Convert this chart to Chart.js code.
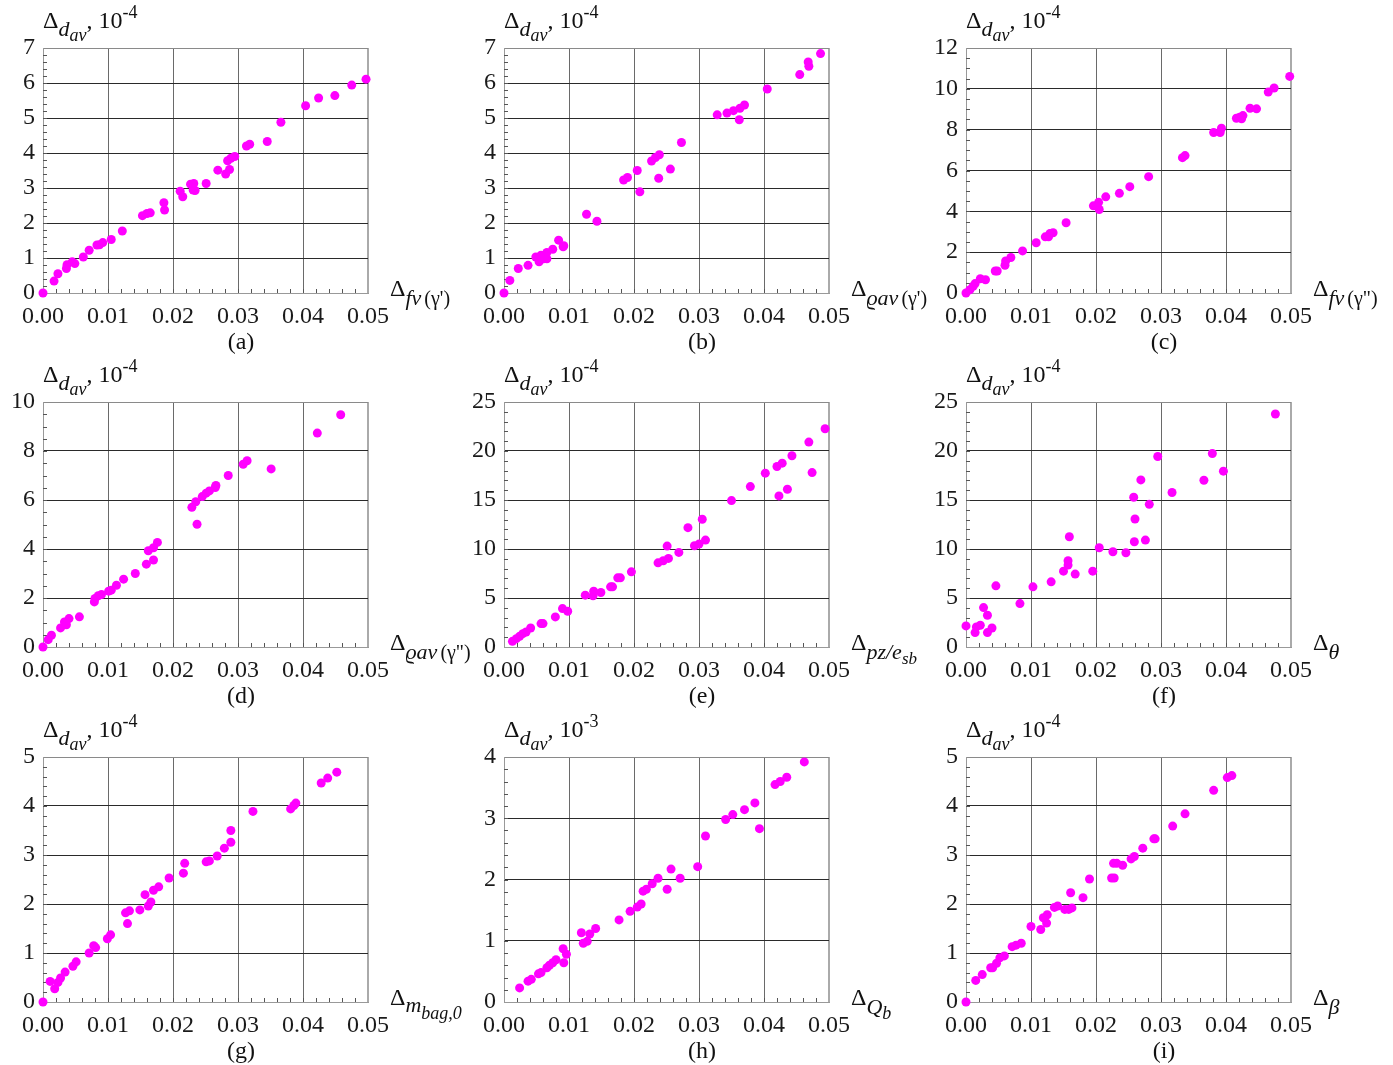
<!DOCTYPE html>
<html>
<head>
<meta charset="utf-8">
<script src="https://cdn.jsdelivr.net/npm/chart.js@4.4.1/dist/chart.umd.min.js"></script>
<style>
  html, body { margin: 0; padding: 0; background: #fff; }
  #page {
    position: relative; width: 1393px; height: 1065px; overflow: hidden;
    font-family: "Liberation Serif", serif; color: #111;
  }
  canvas { position: absolute; }
  .lbl { position: absolute; white-space: nowrap; font-size: 24px; line-height: 24px; }
  .it { font-style: italic; }
  .r { position: relative; }
</style>
</head>
<body>
<div id="page"></div>
<script>
/* ------------------------------
   Data
------------------------------ */
const xTickLabels = ['0.00', '0.01', '0.02', '0.03', '0.04', '0.05'];
const xTickValues = [0, 0.01, 0.02, 0.03, 0.04, 0.05];

const aX = [0, 0.0017, 0.0023, 0.0036, 0.0037, 0.0045, 0.0049, 0.0062, 0.0071, 0.0083, 0.0087, 0.0092, 0.0105, 0.0122, 0.0153, 0.016, 0.0165, 0.0186, 0.0187, 0.0211, 0.0215, 0.0227, 0.0232, 0.0231, 0.0234, 0.0251, 0.0269, 0.0281, 0.0287, 0.0284, 0.0289, 0.0295, 0.0313, 0.0318, 0.0345, 0.0366, 0.0404, 0.0424, 0.0449, 0.0475, 0.0497];
const aY = [0, 0.34, 0.55, 0.70, 0.81, 0.89, 0.84, 1.03, 1.22, 1.37, 1.38, 1.44, 1.53, 1.77, 2.21, 2.27, 2.29, 2.58, 2.37, 2.91, 2.75, 3.11, 3.13, 2.94, 2.93, 3.13, 3.51, 3.40, 3.53, 3.78, 3.85, 3.90, 4.20, 4.25, 4.33, 4.88, 5.35, 5.57, 5.64, 5.94, 6.11];

const bX = [0, 0.0009, 0.0022, 0.0037, 0.0049, 0.0054, 0.0057, 0.0061, 0.0066, 0.0066, 0.0075, 0.0084, 0.0091, 0.0092, 0.0127, 0.0143, 0.0184, 0.019, 0.0205, 0.0209, 0.0227, 0.0233, 0.0239, 0.0238, 0.0256, 0.0273, 0.0328, 0.0343, 0.0353, 0.0363, 0.037, 0.0362, 0.0405, 0.0455, 0.0468, 0.0469, 0.0487];
const bY = [0, 0.36, 0.70, 0.79, 1.03, 0.89, 1.08, 0.98, 1.16, 0.98, 1.25, 1.51, 1.32, 1.35, 2.25, 2.05, 3.23, 3.30, 3.50, 2.89, 3.77, 3.87, 3.95, 3.28, 3.54, 4.30, 5.09, 5.14, 5.21, 5.28, 5.37, 4.95, 5.83, 6.24, 6.60, 6.48, 6.84];

const cX = [0, 0.0006, 0.0011, 0.0014, 0.0022, 0.003, 0.0045, 0.0048, 0.006, 0.0061, 0.0069, 0.0087, 0.0108, 0.0122, 0.0127, 0.0129, 0.0134, 0.0154, 0.0196, 0.0204, 0.0205, 0.0215, 0.0236, 0.0252, 0.0281, 0.0333, 0.0337, 0.0381, 0.0391, 0.0393, 0.0416, 0.0421, 0.0426, 0.0424, 0.0437, 0.0447, 0.0465, 0.0474, 0.0498];
const cY = [0, 0.16, 0.33, 0.46, 0.70, 0.65, 1.08, 1.08, 1.36, 1.57, 1.74, 2.06, 2.46, 2.75, 2.75, 2.91, 2.95, 3.44, 4.27, 4.44, 4.09, 4.71, 4.88, 5.21, 5.70, 6.63, 6.73, 7.86, 7.86, 8.07, 8.56, 8.61, 8.69, 8.53, 9.05, 9.02, 9.84, 10.04, 10.61];

const dX = [0, 0.0008, 0.0013, 0.0027, 0.0033, 0.0036, 0.004, 0.0056, 0.0079, 0.008, 0.0085, 0.009, 0.0101, 0.0105, 0.0113, 0.0124, 0.0142, 0.0159, 0.017, 0.0162, 0.017, 0.0176, 0.0229, 0.0235, 0.0237, 0.0245, 0.0251, 0.0256, 0.0265, 0.0266, 0.0285, 0.0308, 0.0314, 0.0351, 0.0422, 0.0458];
const dY = [0, 0.30, 0.48, 0.78, 1.02, 0.91, 1.16, 1.23, 1.84, 1.98, 2.09, 2.14, 2.28, 2.32, 2.52, 2.77, 3.00, 3.38, 3.55, 3.93, 4.05, 4.27, 5.70, 5.93, 5.01, 6.14, 6.28, 6.37, 6.51, 6.59, 7.00, 7.46, 7.60, 7.27, 8.73, 9.48];

const eX = [0.0013, 0.0019, 0.0024, 0.0029, 0.0034, 0.0041, 0.0057, 0.006, 0.0079, 0.009, 0.0098, 0.0125, 0.0137, 0.0138, 0.0149, 0.0164, 0.0167, 0.0175, 0.0179, 0.0196, 0.0237, 0.0245, 0.0253, 0.0251, 0.0269, 0.0283, 0.0293, 0.03, 0.0305, 0.031, 0.035, 0.0379, 0.0402, 0.042, 0.0428, 0.0423, 0.0436, 0.0443, 0.0469, 0.0474, 0.0494];
const eY = [0.58, 0.85, 1.09, 1.36, 1.53, 1.94, 2.39, 2.39, 3.07, 3.92, 3.65, 5.29, 5.22, 5.70, 5.56, 6.14, 6.14, 7.06, 7.06, 7.67, 8.59, 8.80, 9.04, 10.30, 9.65, 12.18, 10.33, 10.50, 13.03, 10.91, 14.94, 16.37, 17.74, 18.42, 18.76, 15.42, 16.10, 19.51, 20.91, 17.80, 22.27];

const fX = [0, 0.0014, 0.0016, 0.0022, 0.0027, 0.0033, 0.0033, 0.004, 0.0046, 0.0083, 0.0103, 0.0131, 0.015, 0.0157, 0.0157, 0.0159, 0.0168, 0.0195, 0.0205, 0.0226, 0.0246, 0.0258, 0.026, 0.0259, 0.0269, 0.0276, 0.0282, 0.0295, 0.0317, 0.0366, 0.0379, 0.0396, 0.0476];
const fY = [2.15, 1.47, 2.05, 2.22, 4.02, 3.24, 1.47, 1.94, 6.24, 4.43, 6.14, 6.65, 7.74, 8.80, 8.36, 11.25, 7.44, 7.74, 10.13, 9.72, 9.62, 15.28, 13.06, 10.74, 17.05, 10.91, 14.56, 19.44, 15.76, 17.02, 19.75, 17.94, 23.77];

const gX = [0, 0.0011, 0.0018, 0.0023, 0.0027, 0.0034, 0.0046, 0.0051, 0.0071, 0.0078, 0.0081, 0.0099, 0.0104, 0.0127, 0.0133, 0.013, 0.0149, 0.0157, 0.0162, 0.0166, 0.017, 0.0178, 0.0194, 0.0216, 0.0218, 0.0251, 0.0256, 0.0268, 0.0279, 0.0289, 0.0289, 0.0323, 0.0381, 0.0386, 0.0389, 0.0428, 0.0438, 0.0452];
const gY = [0, 0.42, 0.27, 0.40, 0.49, 0.61, 0.73, 0.82, 1.00, 1.15, 1.11, 1.29, 1.37, 1.82, 1.86, 1.60, 1.88, 2.19, 1.96, 2.04, 2.28, 2.35, 2.53, 2.63, 2.83, 2.86, 2.88, 2.98, 3.14, 3.26, 3.50, 3.89, 3.94, 4.01, 4.06, 4.47, 4.57, 4.69];

const hX = [0.0024, 0.0037, 0.0042, 0.0053, 0.0057, 0.0066, 0.007, 0.0075, 0.008, 0.0091, 0.0092, 0.0096, 0.0119, 0.0122, 0.0128, 0.0132, 0.0141, 0.0177, 0.0194, 0.0205, 0.0211, 0.0214, 0.0219, 0.0228, 0.0237, 0.0251, 0.0257, 0.0271, 0.0298, 0.031, 0.0341, 0.0352, 0.037, 0.0386, 0.0393, 0.0417, 0.0425, 0.0435, 0.0462];
const hY = [0.23, 0.34, 0.37, 0.46, 0.48, 0.56, 0.60, 0.64, 0.69, 0.87, 0.64, 0.78, 1.13, 0.96, 0.99, 1.11, 1.20, 1.34, 1.48, 1.55, 1.60, 1.81, 1.84, 1.93, 2.02, 1.84, 2.17, 2.02, 2.21, 2.71, 2.98, 3.06, 3.14, 3.25, 2.83, 3.55, 3.60, 3.67, 3.92];

const iX = [0, 0.0015, 0.0025, 0.0038, 0.0041, 0.0047, 0.0052, 0.0059, 0.0071, 0.0077, 0.0085, 0.01, 0.0115, 0.0119, 0.0125, 0.0124, 0.0136, 0.0141, 0.0152, 0.0158, 0.0161, 0.0163, 0.018, 0.019, 0.0224, 0.0228, 0.0227, 0.0232, 0.0241, 0.0254, 0.0259, 0.0272, 0.0289, 0.0291, 0.0318, 0.0337, 0.0381, 0.0402, 0.0409];
const iY = [0, 0.44, 0.56, 0.70, 0.70, 0.79, 0.90, 0.94, 1.13, 1.16, 1.20, 1.54, 1.48, 1.72, 1.78, 1.61, 1.93, 1.96, 1.89, 1.89, 2.23, 1.92, 2.13, 2.51, 2.53, 2.53, 2.83, 2.83, 2.79, 2.92, 2.97, 3.14, 3.33, 3.33, 3.59, 3.84, 4.32, 4.58, 4.62];

/* ------------------------------
   Panel setup
------------------------------ */
const subA = (t, size, top) => `<span class="r it" style="font-size:${size}px;top:${top}px">${t}</span>`;
const subU = (t, size, top, ml) => `<span class="r" style="font-size:${size}px;top:${top}px;margin-left:${ml}px">${t}</span>`;

const panels = [
  { id: 'a', xs: aX, ys: aY, yMax: 7,  yStep: 1, yMinor: 0.2, exp: '-4', xt: subA('fv', 22, 9) + subU("(γ')", 20, 9, 3) },
  { id: 'b', xs: bX, ys: bY, yMax: 7,  yStep: 1, yMinor: 0.2, exp: '-4', xt: subA('ϱav', 22, 9) + subU("(γ')", 20, 9, 3) },
  { id: 'c', xs: cX, ys: cY, yMax: 12, yStep: 2, yMinor: 0.5, exp: '-4', xt: subA('fv', 22, 9) + subU('(γ")', 20, 9, 3) },
  { id: 'd', xs: dX, ys: dY, yMax: 10, yStep: 2, yMinor: 0.5, exp: '-4', xt: subA('ϱav', 22, 9) + subU('(γ")', 20, 9, 3) },
  { id: 'e', xs: eX, ys: eY, yMax: 25, yStep: 5, yMinor: 1,   exp: '-4', xt: subA('pz/e', 22, 9) + subA('sb', 17, 14) },
  { id: 'f', xs: fX, ys: fY, yMax: 25, yStep: 5, yMinor: 1,   exp: '-4', xt: subA('θ', 22, 9) },
  { id: 'g', xs: gX, ys: gY, yMax: 5,  yStep: 1, yMinor: 0.2, exp: '-4', xt: subA('m', 22, 7) + subA('bag,0', 18, 14) },
  { id: 'h', xs: hX, ys: hY, yMax: 4,  yStep: 1, yMinor: 0.2, exp: '-3', xt: subA('Q', 22, 9) + subA('b', 18, 14) },
  { id: 'i', xs: iX, ys: iY, yMax: 5,  yStep: 1, yMinor: 0.2, exp: '-4', xt: subA('β', 22, 9) }
];

const plotLefts = [43, 504, 966];
const plotTops = [48, 402, 757];
const plotW = 325, plotH = 245;
const tickFont = { family: '"Liberation Serif", serif', size: 24 };

// small inward ticks between the grid lines
const minorTicks = {
  id: 'minorTicks',
  beforeDatasetsDraw(chart, args, opts) {
    const { ctx, chartArea: a, scales: { x, y } } = chart;
    ctx.save();
    ctx.strokeStyle = '#555';
    ctx.lineWidth = 1;
    ctx.beginPath();
    const nx = Math.round((x.max - x.min) / opts.xStep);
    for (let i = 1; i < nx; i++) {
      const px = Math.round(x.getPixelForValue(i * opts.xStep)) + 0.5;
      ctx.moveTo(px, a.bottom);
      ctx.lineTo(px, a.bottom - 4);
    }
    const ny = Math.round((y.max - y.min) / opts.yStep);
    for (let i = 1; i < ny; i++) {
      const py = Math.round(y.getPixelForValue(i * opts.yStep)) + 0.5;
      ctx.moveTo(a.left, py);
      ctx.lineTo(a.left + 4, py);
    }
    ctx.stroke();
    ctx.restore();
  }
};

const page = document.getElementById('page');

function addLabel(html, left, top, extra) {
  const d = document.createElement('div');
  d.className = 'lbl';
  d.style.left = left + 'px';
  d.style.top = top + 'px';
  if (extra) Object.assign(d.style, extra);
  d.innerHTML = html;
  page.appendChild(d);
}

panels.forEach((p, k) => {
  const left = plotLefts[k % 3];
  const top = plotTops[Math.floor(k / 3)];

  const cv = document.createElement('canvas');
  cv.width = 430;
  cv.height = 335;
  cv.style.left = (left - 43) + 'px';
  cv.style.top = (top - 48) + 'px';
  page.appendChild(cv);

  // y title, x title, panel letter
  addLabel('Δ' + subA('d', 22, 8) + subA('av', 18, 13) + ', 10' +
           `<span class="r" style="font-size:18px;top:-10px">${p.exp}</span>`,
           left, top - 40);
  addLabel('Δ' + p.xt, left + plotW + 22, top + plotH - 17);
  addLabel('(' + p.id + ')', left + 166, top + 281, { width: '64px', textAlign: 'center' });

  new Chart(cv, {
    type: 'scatter',
    data: {
      datasets: [{
        data: p.xs.map((x, i) => ({ x, y: p.ys[i] })),
        backgroundColor: '#ff00ff',
        borderWidth: 0,
        pointRadius: 4.5,
        clip: false
      }]
    },
    options: {
      responsive: false,
      animation: false,
      devicePixelRatio: 1,
      events: [],
      layout: { padding: { top: 48, right: 62, left: 0, bottom: 0 } },
      plugins: {
        legend: { display: false },
        tooltip: { enabled: false },
        minorTicks: { xStep: 0.002, yStep: p.yMinor }
      },
      scales: {
        x: {
          type: 'linear',
          min: 0,
          max: 0.05,
          afterFit: s => { s.height = 42; },
          afterBuildTicks: s => { s.ticks = xTickValues.map(v => ({ value: v })); },
          ticks: {
            callback: (v, i) => xTickLabels[i],
            font: tickFont,
            color: '#1a1a1a',
            padding: 9,
            maxRotation: 0,
            autoSkip: false
          },
          grid: {
            drawTicks: false,
            color: c => c.tick.value >= 0.0499 ? '#aaa' : '#6a6a6a',
            lineWidth: c => c.tick.value >= 0.0499 ? 2 : 1
          },
          border: { color: '#999' }
        },
        y: {
          min: 0,
          max: p.yMax,
          afterFit: s => { s.width = 43; },
          ticks: {
            stepSize: p.yStep,
            font: tickFont,
            color: '#1a1a1a',
            padding: 8
          },
          grid: {
            drawTicks: false,
            color: c => c.tick.value >= p.yMax ? '#8a8a8a' : (c.tick.value === 0 ? '#777' : '#2a2a2a')
          },
          border: { color: '#999' }
        }
      }
    },
    plugins: [minorTicks]
  });
});
</script>
</body>
</html>
